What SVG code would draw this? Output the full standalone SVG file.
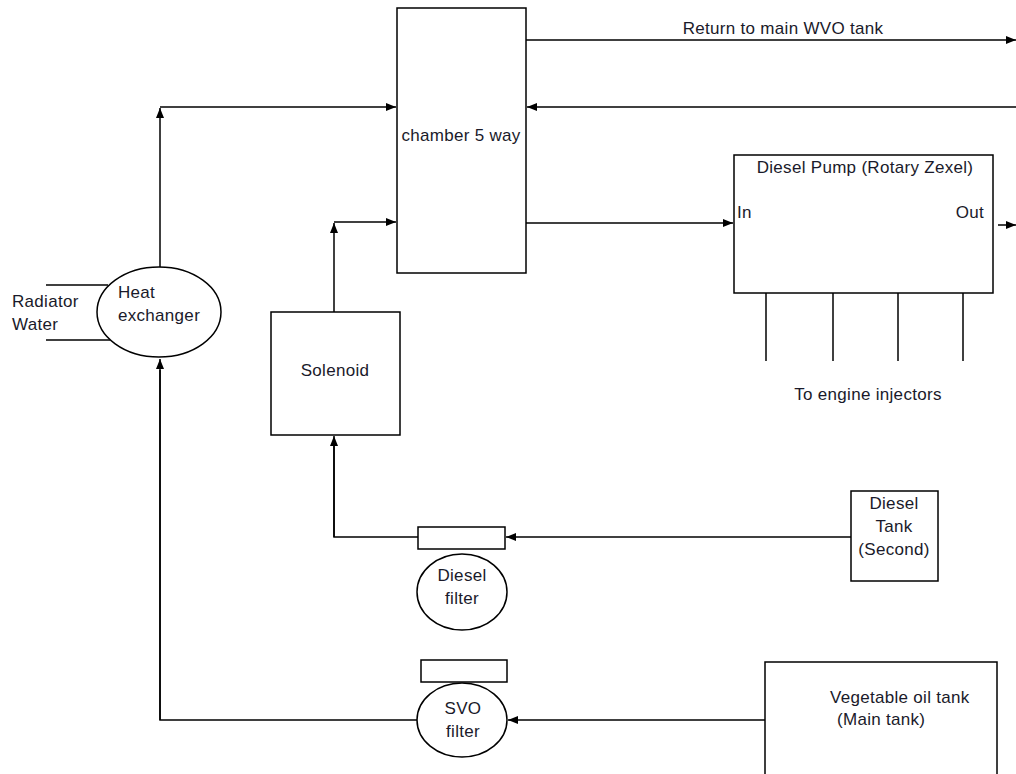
<svg xmlns="http://www.w3.org/2000/svg" width="1016" height="774" viewBox="0 0 1016 774">
<defs>
<marker id="ah" markerWidth="10" markerHeight="8" refX="10" refY="4" orient="auto" markerUnits="userSpaceOnUse">
<path d="M0,0 L10,4 L0,8 Z" fill="#000"/>
</marker>
<style>
.box{fill:#fff;stroke:#000;stroke-width:1.5}
.ln{fill:none;stroke:#000;stroke-width:1.5}
.ar{fill:none;stroke:#000;stroke-width:1.5;marker-end:url(#ah)}
text{font-family:"Liberation Sans",Arial,sans-serif;font-size:17px;letter-spacing:0.3px;fill:#1a1a2a}
.c{text-anchor:middle}
</style>
</defs>
<rect width="1016" height="774" fill="#fff"/>
<g id="connectors">
<line class="ar" x1="526" y1="40" x2="1016" y2="40"/>
<line class="ar" x1="1016" y1="107" x2="527" y2="107"/>
<polyline class="ar" points="160,267 160,108"/>
<line class="ar" x1="160" y1="107" x2="396" y2="107"/>
<polyline class="ar" points="334,312 334,223"/>
<line class="ar" x1="334" y1="222" x2="396" y2="222"/>
<line class="ar" x1="526" y1="223" x2="733" y2="223"/>
<line class="ar" x1="998" y1="225" x2="1016" y2="225"/>
<line class="ln" x1="766" y1="293" x2="766" y2="361"/>
<line class="ln" x1="833" y1="293" x2="833" y2="361"/>
<line class="ln" x1="898" y1="293" x2="898" y2="361"/>
<line class="ln" x1="963" y1="293" x2="963" y2="361"/>
<line class="ln" x1="46" y1="285" x2="108" y2="285"/>
<line class="ln" x1="46" y1="340" x2="110" y2="340"/>
<polyline class="ln" points="418,537 334,537 334,445"/>
<line class="ar" x1="334" y1="537" x2="334" y2="436"/>
<line class="ar" x1="851" y1="537" x2="506" y2="537"/>
<polyline class="ln" points="418,720 160,720 160,370"/>
<line class="ar" x1="160" y1="720" x2="160" y2="359"/>
<line class="ar" x1="765" y1="720" x2="508" y2="720"/>
</g>
<text x="783" y="34" class="c">Return to main WVO tank</text>
<g id="chamber">
<rect class="box" x="397" y="8" width="129" height="265"/>
<text x="461" y="141" class="c">chamber 5 way</text>
</g>
<g id="pump">
<rect class="box" x="734" y="155" width="259" height="138"/>
<text x="865" y="173" class="c">Diesel Pump (Rotary Zexel)</text>
<text x="737" y="218">In</text>
<text x="984" y="218" text-anchor="end">Out</text>
</g>
<text x="868" y="400" class="c">To engine injectors</text>
<g id="heat-exchanger">
<ellipse class="box" cx="159" cy="312" rx="62" ry="45"/>
<text x="118" y="298">Heat</text>
<text x="118" y="321">exchanger</text>
</g>
<text x="12" y="307">Radiator</text>
<text x="12" y="330">Water</text>
<g id="solenoid">
<rect class="box" x="271" y="312" width="129" height="123"/>
<text x="335" y="376" class="c">Solenoid</text>
</g>
<g id="diesel-filter">
<rect class="box" x="418" y="527" width="87" height="22"/>
<ellipse class="box" cx="462" cy="592" rx="45" ry="38"/>
<text x="462" y="581" class="c">Diesel</text>
<text x="462" y="604" class="c">filter</text>
</g>
<g id="diesel-tank">
<rect class="box" x="851" y="491" width="87" height="90"/>
<text x="894" y="509" class="c">Diesel</text>
<text x="894" y="532" class="c">Tank</text>
<text x="894" y="555" class="c">(Second)</text>
</g>
<g id="svo-filter">
<rect class="box" x="421" y="660" width="86" height="22"/>
<ellipse class="box" cx="462" cy="720" rx="45" ry="37"/>
<text x="463" y="714" class="c">SVO</text>
<text x="463" y="737" class="c">filter</text>
</g>
<g id="veg-tank">
<rect class="box" x="765" y="662" width="232" height="120"/>
<text x="830" y="703">Vegetable oil tank</text>
<text x="837" y="725">(Main tank)</text>
</g>
</svg>
